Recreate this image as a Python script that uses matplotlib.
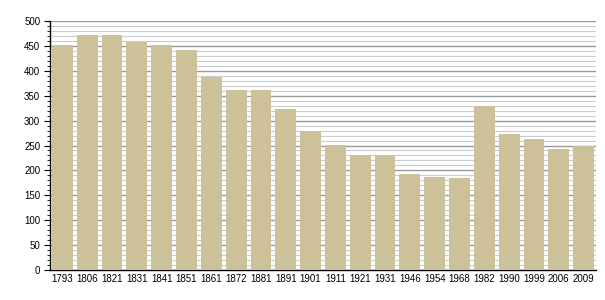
import matplotlib
matplotlib.use("Agg")
from matplotlib import pyplot as plt
from matplotlib.ticker import MultipleLocator

plt.rcParams["font.family"] = ["Liberation Sans", "DejaVu Sans"]

years = ["1793", "1806", "1821", "1831", "1841", "1851", "1861", "1872", "1881", "1891",
         "1901", "1911", "1921", "1931", "1946", "1954", "1968", "1982", "1990", "1999",
         "2006", "2009"]
population = [452, 472, 472, 458, 452, 442, 388, 361, 361, 323,
              280, 251, 231, 231, 193, 187, 184, 330, 273, 263,
              243, 248]

fig = plt.figure(figsize=(6.05, 3.0), dpi=100)
ax = fig.add_axes([50 / 605, 30 / 300, 546 / 605, 249 / 300])

x = range(len(years))
ax.bar(x, population, width=0.84, color="#ccc198", zorder=3)

ax.set_xlim(-0.5, len(years) - 0.5)
ax.set_ylim(0, 500)
ax.yaxis.set_major_locator(MultipleLocator(50))
ax.yaxis.set_minor_locator(MultipleLocator(10))
ax.grid(which="major", axis="y", color="#999999", linewidth=1.0, zorder=0)
ax.grid(which="minor", axis="y", color="#cccccc", linewidth=0.8, zorder=0)

ax.set_xticks(list(x))
ax.set_xticklabels(years)
ax.tick_params(axis="x", length=0, labelsize=7, pad=3)
ax.tick_params(axis="y", which="major", length=4, labelsize=7, pad=3)
ax.tick_params(axis="y", which="minor", length=2)

for side in ["top", "right"]:
    ax.spines[side].set_visible(False)
ax.spines["left"].set_linewidth(1.0)
ax.spines["bottom"].set_linewidth(1.0)

fig.savefig("out.png", dpi=100)
